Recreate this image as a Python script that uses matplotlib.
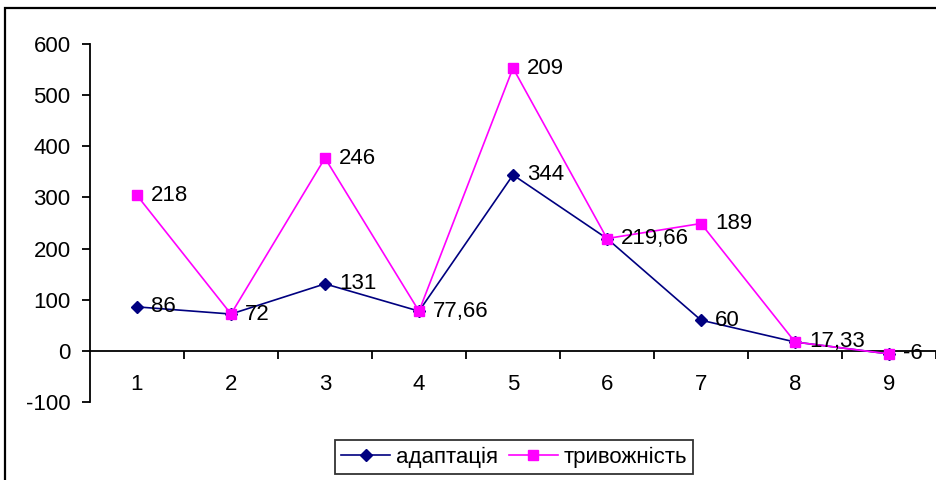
import matplotlib
matplotlib.use("Agg")
import matplotlib.pyplot as plt
from matplotlib.patches import Rectangle
import numpy as np

plt.rcParams['font.family'] = ['Liberation Sans', 'DejaVu Sans']
plt.rcParams['axes.unicode_minus'] = False

# groups 1..9, stacked line chart: second series sits on top of the first
categories = [1, 2, 3, 4, 5, 6, 7, 8, 9]
adaptation = [86, 72, 131, 77.66, 344, 219.66, 60, 17.33, -6]
anxiety = [218, 0, 246, 0, 209, 0, 189, 0, 0]
anxiety_labelled = [True, False, True, False, True, False, True, False, False]

navy = '#000080'
magenta = '#FF00FF'
fs = 16


def fmt(v):
    return f"{v:g}".replace('.', ',')


fig = plt.figure(figsize=(9.36, 4.8), dpi=100)
ax = fig.add_axes([90 / 936, 1 - 402 / 480, 846 / 936, 358 / 480])

x = np.array(categories)
y1 = np.array(adaptation)
y2 = y1 + np.array(anxiety)

ax.plot(x, y1, color=navy, lw=1.2, marker='D', ms=6.5, mfc=navy, mec=navy,
        label='адаптація', zorder=3)
ax.plot(x, y2, color=magenta, lw=1.2, marker='s', ms=7, mfc=magenta, mec=magenta,
        label='тривожність', zorder=4)

for xi, yi, v in zip(x, y1, adaptation):
    ax.annotate(fmt(v), (xi, yi), xytext=(10, 0), textcoords='offset points',
                ha='left', va='center', fontsize=fs, zorder=5)
for xi, yi, v, show in zip(x, y2, anxiety, anxiety_labelled):
    if show:
        ax.annotate(fmt(v), (xi, yi), xytext=(10, 0), textcoords='offset points',
                    ha='left', va='center', fontsize=fs, zorder=5)

ax.set_xlim(0.5, 9.5)
ax.set_ylim(-100, 600)
ax.set_yticks(range(-100, 601, 100))

# category axis crosses at zero, tick marks between categories
for side in ('top', 'right'):
    ax.spines[side].set_visible(False)
ax.spines['bottom'].set_position(('data', 0))
ax.spines['bottom'].set_linewidth(1.3)
ax.spines['left'].set_linewidth(1.3)
ax.set_xticks(categories)
ax.set_xticks(np.arange(1.5, 9.6, 1), minor=True)
ax.tick_params(axis='x', which='major', length=0, pad=17, labelsize=fs)
ax.tick_params(axis='x', which='minor', length=6, width=1.3, direction='out')
ax.tick_params(axis='y', length=6, width=1.3, labelsize=fs, pad=8)

leg = ax.legend(loc='center', bbox_to_anchor=(514 / 936, 23 / 480),
                bbox_transform=fig.transFigure, ncol=2, fontsize=fs,
                frameon=True, fancybox=False, edgecolor='black',
                handlelength=2.2, columnspacing=0.5, handletextpad=0.25,
                borderpad=0.3, borderaxespad=0)
leg.get_frame().set_linewidth(1.3)

# chart border
fig.add_artist(Rectangle((4.5 / 936, -0.05), 1.1, 1.05 - 7.5 / 480,
                         transform=fig.transFigure, fill=False,
                         edgecolor='black', lw=1.6))

fig.savefig('out.png', dpi=100)
